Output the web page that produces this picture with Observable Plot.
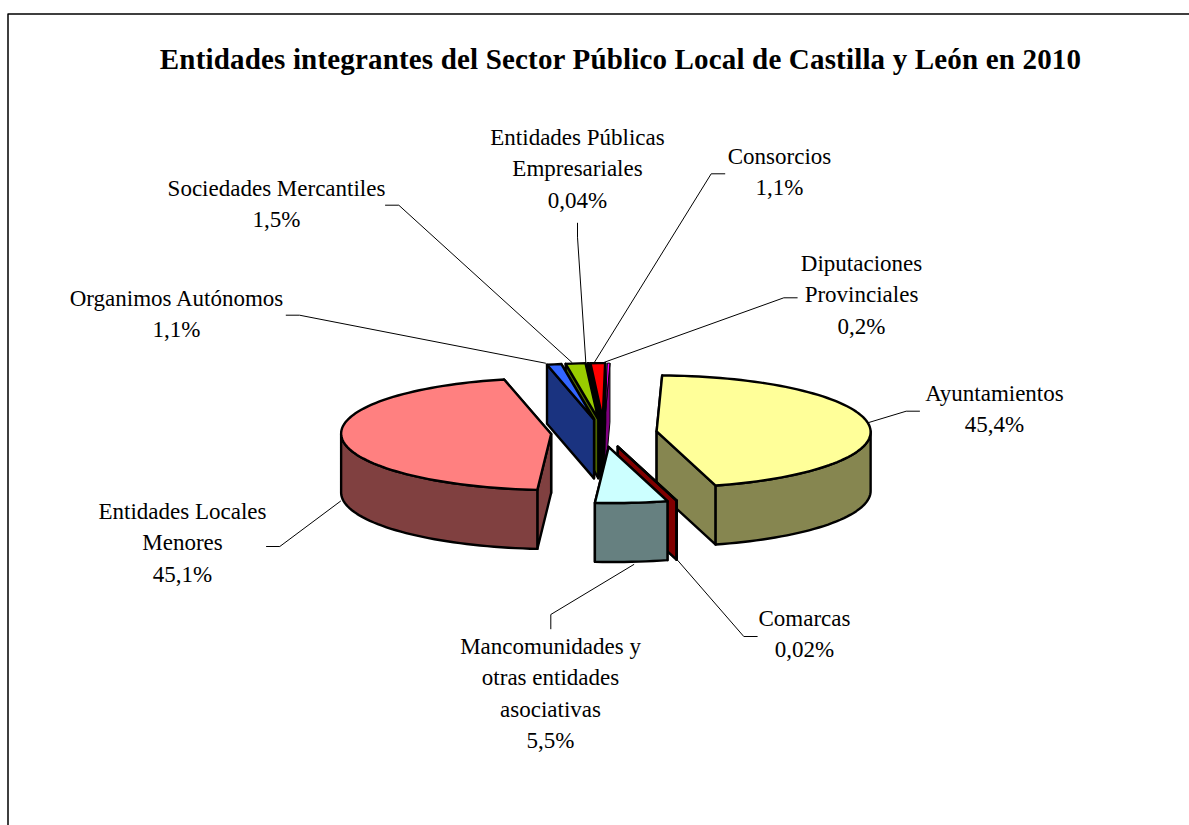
<!DOCTYPE html>
<html><head><meta charset="utf-8">
<script src="https://cdn.jsdelivr.net/npm/d3@7"></script>
<script src="https://cdn.jsdelivr.net/npm/@observablehq/plot@0.6"></script>
<style>html,body{margin:0;padding:0;background:#fff}svg{display:block}.chart-title{letter-spacing:.17px}</style>
</head><body><div id="chart"></div>
<script>
const chartTitle = "Entidades integrantes del Sector Público Local de Castilla y León en 2010";
const categories = ["Ayuntamientos","Comarcas","Mancomunidades y\notras entidades\nasociativas","Entidades Locales\nMenores","Organimos Autónomos","Sociedades Mercantiles","Entidades Públicas\nEmpresariales","Consorcios","Diputaciones\nProvinciales"];
const shares = [45.4,0.02,5.5,45.1,1.1,1.5,0.04,1.1,0.2];
const shareLabels = ["45,4%","0,02%","5,5%","45,1%","1,1%","1,5%","0,04%","1,1%","0,2%"];
const topColors = ["#FFFF99","#800000","#CCFFFF","#FF8080","#3366FF","#99CC00","#000000","#FF0000","#FF00FF"];
const wallColors = ["#868650","#800000","#668080","#804040","#1A3380","#4D6600","#000000","#800000","#800080"];
// Drawn back to front
const paintOrder = [8,7,6,5,4,3,0,1,2];
// Label anchors (centre x, centre y of first line)
const labelX = [994,804,550,182,176,276,577,779,861];
const labelY = [390.5,615.5,643.5,508.5,295.5,185.5,134.5,153.5,260.5];
// Leader lines
const leaders = [
  [[919,410.7],[905.7,410.7],[867.3,422.3]],
  [[756.7,636],[743.3,636],[677.3,560]],
  [[550.3,628.3],[550.3,614],[633.3,564]],
  [[266,546],[279.3,546],[340,500.7]],
  [[285.7,314.7],[299,314.7],[545,362.7]],
  [[385,204.7],[398.3,204.7],[571.5,362]],
  [[577,222.7],[577,236.7],[585.3,361.7]],
  [[724.3,173.3],[710.7,173.3],[594,361.7]],
  [[796.7,297.3],[783.3,297.3],[604,361.7]]
];
const frame = [[7.5,825],[7.5,13.5],[1189,13.5]];

// Pie projection
const cx = 603.5, cy = 432.6, rx = 212, ry = 56, explode = 0.25, depth = 59, startDeg = -88.5, shear = 2;
const lineStep = 31.3;
const rad = d => d * Math.PI / 180;

let a = startDeg;
const slices = shares.map((v, i) => {
  const t0 = a, t1 = a + v * 3.6; a = t1;
  const mid = rad((t0 + t1) / 2);
  return {i, t0, t1, ox: cx + explode * rx * Math.cos(mid), oy: cy + explode * ry * Math.sin(mid)};
});
const rimPoint = (s, t, dz = 0) => ({
  x: s.ox + rx * Math.cos(rad(t)) + shear * (1 + Math.sin(rad(t))),
  y: s.oy + ry * Math.sin(rad(t)) + dz
});
const arc = (s, from, to, dz = 0) => {
  const n = Math.max(1, Math.ceil(Math.abs(to - from) / 2));
  return d3.range(n + 1).map(k => rimPoint(s, from + (to - from) * k / n, dz));
};
const close = p => [...p, p[0]];
const faces = [];
for (const idx of paintOrder) {
  const s = slices[idx];
  const w = idx === 8 ? 1 : 2.4; // the narrowest coloured slice would vanish under a heavy outline
  const apex = {x: s.ox, y: s.oy}, apexLow = {x: s.ox, y: s.oy + depth};
  const radial = t => close([apex, rimPoint(s, t), rimPoint(s, t, depth), apexLow]);
  const [back, front] = Math.sin(rad(s.t0)) < Math.sin(rad(s.t1)) ? [s.t0, s.t1] : [s.t1, s.t0];
  faces.push({pts: radial(back), fill: wallColors[idx], w});
  faces.push({pts: radial(front), fill: wallColors[idx], w});
  const lo = Math.max(s.t0, 0), hi = Math.min(s.t1, 180);
  if (hi > lo) faces.push({pts: close([...arc(s, lo, hi), ...arc(s, hi, lo, depth)]), fill: wallColors[idx], w});
  faces.push({pts: close([apex, ...arc(s, s.t0, s.t1)]), fill: topColors[idx], w});
}

const serif = "Liberation Serif";
const labels = categories.map((c, i) => {
  const text = c + "\n" + shareLabels[i];
  return {x: labelX[i], y: labelY[i] + (text.split("\n").length - 1) / 2 * lineStep, text};
});

const chart = Plot.plot({
  width: 1189, height: 825, margin: 0,
  x: {domain: [0, 1189], range: [0, 1189], axis: null},
  y: {domain: [0, 825], range: [0, 825], axis: null},
  marks: [
    Plot.line(frame, {x: d => d[0], y: d => d[1], stroke: "#000", strokeWidth: 1.5}),
    ...leaders.map(l => Plot.line(l, {x: d => d[0], y: d => d[1], stroke: "#000", strokeWidth: 1})),
    ...faces.map(f => Plot.line(f.pts, {x: "x", y: "y", fill: f.fill, stroke: "#000", strokeWidth: f.w, strokeLinejoin: "round"})),
    Plot.text(labels, {x: "x", y: "y", text: "text", textAnchor: "middle", lineAnchor: "middle", lineHeight: lineStep / 23, fontSize: 23, fontFamily: serif, fill: "#000"}),
    Plot.text([chartTitle], {x: () => 620, y: () => 59, text: d => d, textAnchor: "middle", fontSize: 29, fontWeight: "bold", fontFamily: serif, fill: "#000", className: "chart-title"})
  ]
});
document.getElementById("chart").append(chart);
</script></body></html>
